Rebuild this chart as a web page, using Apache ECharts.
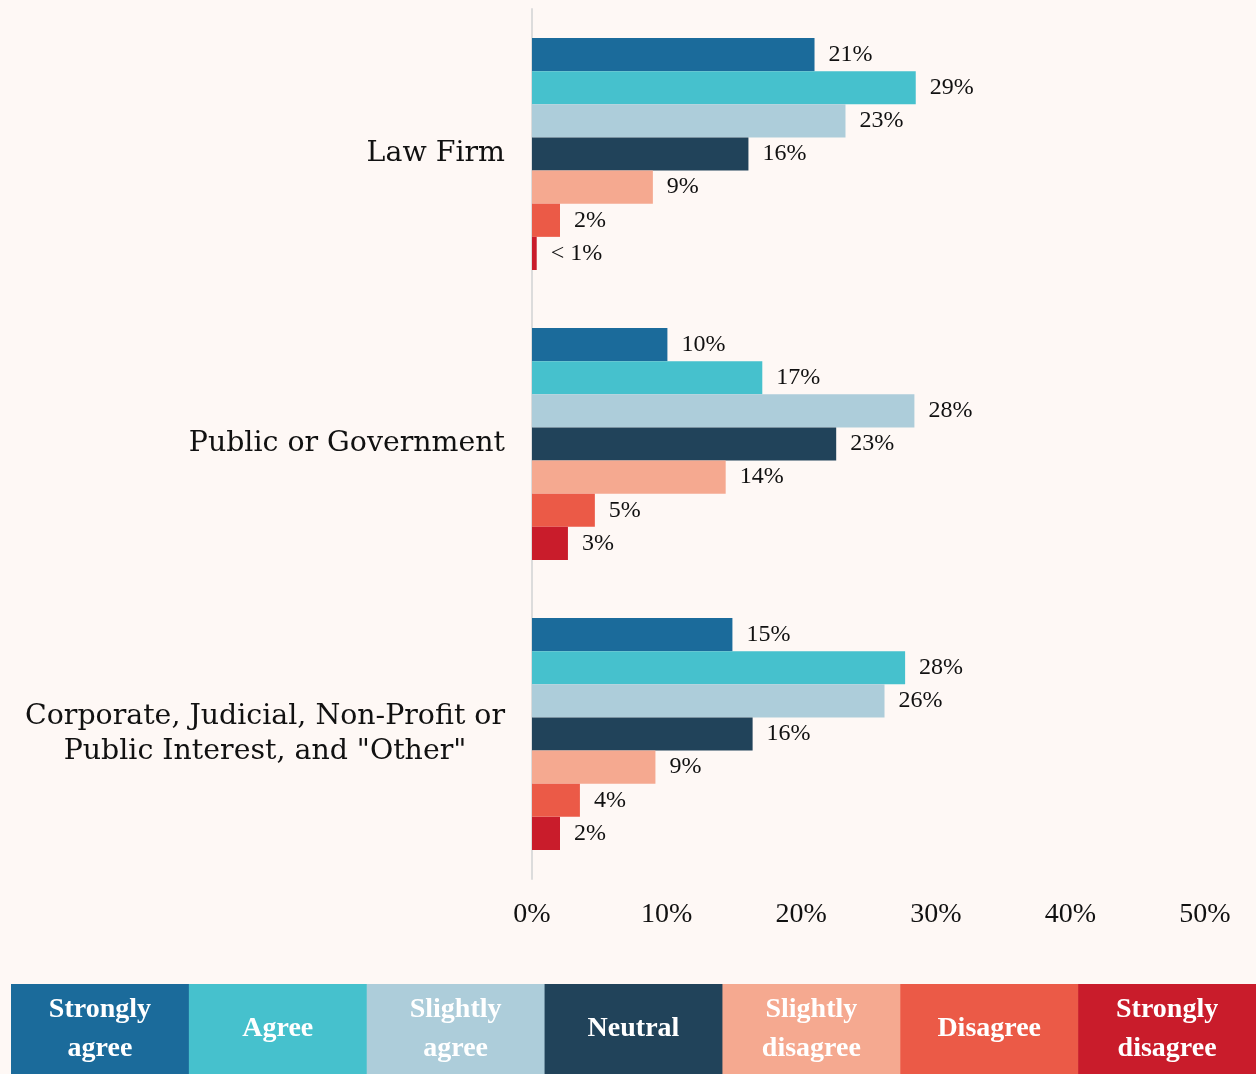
<!DOCTYPE html>
<html>
<head>
<meta charset="utf-8">
<script src="https://cdn.jsdelivr.net/npm/echarts@6/dist/echarts.min.js"></script>
<style>
html,body{margin:0;padding:0;background:#fef8f5;}
#chart{width:1256px;height:1074px;}
</style>
</head>
<body>
<div id="chart"></div>
<script>
const categories = ['Law Firm', 'Public or Government', 'Corporate, Judicial, Non-Profit or\nPublic Interest, and "Other"'];
const seriesNames = ['Strongly agree', 'Agree', 'Slightly agree', 'Neutral', 'Slightly disagree', 'Disagree', 'Strongly disagree'];
const legendLabels = ['Strongly\nagree', 'Agree', 'Slightly\nagree', 'Neutral', 'Slightly\ndisagree', 'Disagree', 'Strongly\ndisagree'];
const colors = ['#1b6b9b', '#46c1cd', '#adcdda', '#21435a', '#f5a990', '#eb5a47', '#c91c2b'];

const stronglyAgree = [20.99, 10.06, 14.89];
const agree = [28.51, 17.11, 27.72];
const slightlyAgree = [23.29, 28.41, 26.19];
const neutral = [16.08, 22.6, 16.39];
const slightlyDisagree = [8.98, 14.39, 9.17];
const disagree = [2.08, 4.67, 3.56];
const stronglyDisagree = [0.35, 2.67, 2.08];

const xMin = 0, xMax = 50, xInterval = 10;

const allValues = [stronglyAgree, agree, slightlyAgree, neutral, slightlyDisagree, disagree, stronglyDisagree];

const serif = '"Liberation Serif", "DejaVu Serif", serif';
const catFont = '"DejaVu Serif", serif';

const chart = echarts.init(document.getElementById('chart'), null, {renderer: 'canvas'});

const series = allValues.map((vals, i) => ({
  name: seriesNames[i],
  type: 'bar',
  data: vals,
  barGap: 0,
  barCategoryGap: '20%',
  itemStyle: {color: colors[i]},
  label: {
    show: true,
    position: 'right',
    distance: 14,
    fontFamily: serif,
    fontSize: 24,
    color: '#111',
    formatter: p => p.value < 1 ? '< 1%' : Math.round(p.value) + '%'
  }
}));

const legendLeft = 11, legendTop = 984, legendH = 90;
const boxW = (1256 - legendLeft) / seriesNames.length;
const graphics = [];
legendLabels.forEach((t, i) => {
  graphics.push({
    type: 'rect',
    left: legendLeft + i * boxW,
    top: legendTop,
    shape: {width: boxW + 0.6, height: legendH},
    style: {fill: colors[i]},
    silent: true
  });
  graphics.push({
    type: 'text',
    x: legendLeft + i * boxW + boxW / 2,
    y: legendTop + legendH / 2,
    style: {
      text: t,
      fill: '#ffffff',
      font: 'bold 28px "Liberation Serif", serif',
      align: 'center',
      verticalAlign: 'middle',
      lineHeight: 39
    },
    silent: true
  });
});

chart.setOption({
  backgroundColor: '#fef8f5',
  animation: false,
  grid: {left: 532, right: 51, top: 9, bottom: 195, containLabel: false},
  xAxis: {
    type: 'value',
    min: xMin,
    max: xMax,
    interval: xInterval,
    splitLine: {show: false},
    axisLine: {show: false},
    axisTick: {show: false},
    axisLabel: {
      formatter: '{value}%',
      fontFamily: serif,
      fontSize: 28,
      color: '#111',
      margin: 22
    }
  },
  yAxis: {
    type: 'category',
    inverse: true,
    data: categories,
    axisLine: {show: true, lineStyle: {color: '#dcdcdc', width: 2}},
    axisTick: {show: false},
    axisLabel: {
      margin: 27,
      align: 'right',
      formatter: v => v.split('\n').map(s => '{c|' + s + '}').join('\n'),
      rich: {
        c: {
          fontFamily: catFont,
          fontSize: 28.4,
          color: '#111',
          lineHeight: 35,
          align: 'center'
        }
      }
    }
  },
  series: series,
  graphic: graphics
});
</script>
</body>
</html>
